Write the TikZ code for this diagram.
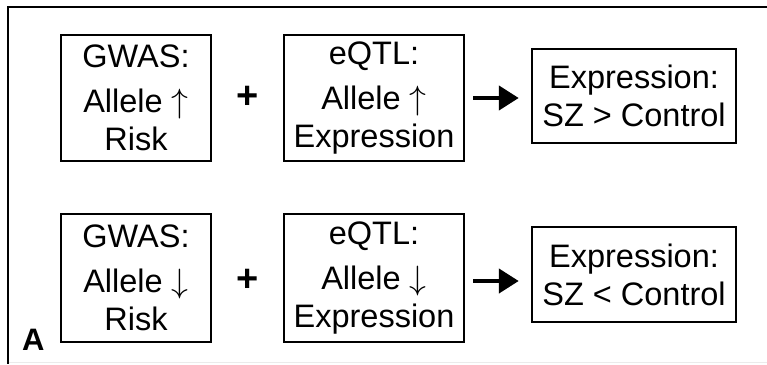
\documentclass[tikz,border=0pt]{standalone}
\usepackage{fontspec}
\usepackage{graphicx}
\setmainfont{Liberation Sans}
\usetikzlibrary{arrows.meta}
\newcommand{\upar}{\smash{\resizebox*{!}{30pt}{$\uparrow$}}}
\newcommand{\dnar}{\smash{\resizebox*{!}{30pt}{$\downarrow$}}}
\tikzset{
  boxnode/.style={draw, line width=2.5pt, inner sep=0pt, align=center,
    font=\fontsize{32.5}{38}\selectfont},
  plusnode/.style={inner sep=0pt, font=\fontsize{38}{38}\selectfont\bfseries},
  flowarrow/.style={line width=4.5pt, -{Triangle[length=20pt,width=24pt]}},
}
\begin{document}
\begin{tikzpicture}[x=1pt,y=-1pt]
\useasboundingbox (0,0) rectangle (767,364);
% frame
\draw[line width=2.5pt] (7,7) -- (767,7);
\draw[line width=2.5pt] (8,6) -- (8,364);
\draw[line width=1.5pt, black!8] (9,362.5) -- (767,362.5);
% row 1
\node[boxnode, minimum width=150, minimum height=126] (g1) at (136,98)
  {GWAS:\\[7pt]Allele \upar\\Risk};
\node[boxnode, minimum width=180, minimum height=126] (e1) at (374,98)
  {eQTL:\\[7pt]Allele \upar\\Expression};
\node[boxnode, minimum width=204, minimum height=94] (r1) at (634,96)
  {Expression:\\SZ > Control};
\node[plusnode] (p1) at (247.5,97) {+};
\draw[flowarrow] ([xshift=8pt]e1.east) -- ([xshift=-12pt]e1.east -| r1.west);
% row 2
\node[boxnode, minimum width=150, minimum height=128] (g2) at (136,278)
  {GWAS:\\[7pt]Allele \dnar\\Risk};
\node[boxnode, minimum width=180, minimum height=128] (e2) at (374,278)
  {eQTL:\\[7pt]Allele \dnar\\Expression};
\node[boxnode, minimum width=204, minimum height=95] (r2) at (634,274.5)
  {Expression:\\SZ < Control};
\node[plusnode] (p2) at (247.5,280) {+};
\draw[flowarrow] ([xshift=8pt,yshift=-3pt]e2.east) -- ([yshift=-3pt,xshift=-12pt]e2.east -| r2.west);
% label
\node[anchor=base west, inner sep=0pt, font=\fontsize{31}{31}\selectfont\bfseries] (lab) at (22,350) {A};
\end{tikzpicture}
\end{document}
